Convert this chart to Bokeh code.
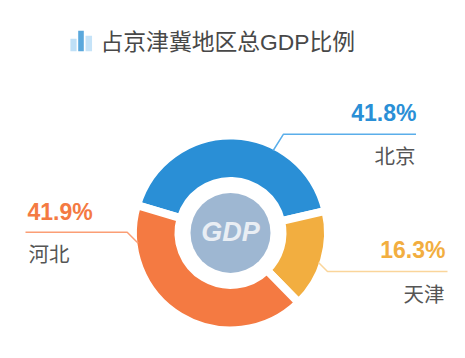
import math
from bokeh.plotting import figure
from bokeh.models import Range1d
from bokeh.core.properties import value
from bokeh.embed import file_html
from bokeh.resources import INLINE

regions = ["北京", "天津", "河北"]
shares = [41.8, 16.3, 41.9]
share_labels = ["41.8%", "16.3%", "41.9%"]
title_text = "占京津冀地区总GDP比例"
center_text = "GDP"
icon_heights = [12.5, 20.5, 15.5]

colors = ["#2A8FD6", "#F2AE40", "#F47A42"]
line_colors = ["#5AAEEA", "#FAD59B", "#FB9E75"]

W, H = 449, 342
def Y(py):
    return 358 - py

p = figure(width=W, height=H, output_backend="svg", toolbar_location=None,
           x_range=Range1d(0, W), y_range=Range1d(358 - H, 358),
           min_border=0, outline_line_color=None)
p.axis.visible = False
p.grid.visible = False
p.background_fill_color = "white"
p.border_fill_color = "white"

cx, cy = 230, Y(232.4)
start = 163.5
ang = start
for v, c in zip(shares, colors):
    end = ang - v * 3.6
    p.annular_wedge(x=[cx], y=[cy], inner_radius=52, outer_radius=97.5,
                    start_angle=math.radians(end), end_angle=math.radians(ang),
                    fill_color=c, line_color="white", line_width=8, line_join="miter")
    ang = end

p.circle(x=[cx], y=[cy], radius=40, fill_color="#9EB7D2", line_color=None)
p.text(x=[cx], y=[cy + 0.5], text=[center_text], text_align="center", text_baseline="middle",
       text_font=value("Liberation Sans"), text_font_size="27px", text_font_style="bold italic",
       text_color="#E9EEF4")

leaders = [([272.7, 283, 415.5], [150, 133.7, 133.7]),
           ([318, 327, 447], [262, 271, 271]),
           ([137.7, 126.7, 25], [242.7, 231.8, 231.8])]
for (xs, ys), c in zip(leaders, line_colors):
    p.line(x=xs, y=[Y(v) for v in ys], line_color=c, line_width=1.5)

pct_pos = [(416, 112.5, "right"), (445, 249, "right"), (27, 211, "left")]
name_pos = [(415, 154.5, "right"), (444, 292.5, "right"), (28, 252.5, "left")]
for t, n, c, (x1, y1, a1), (x2, y2, a2) in zip(share_labels, regions, colors, pct_pos, name_pos):
    p.text(x=[x1], y=[Y(y1)], text=[t], text_align=a1, text_baseline="middle",
           text_font=value("Liberation Sans"), text_font_size="23px", text_font_style="bold",
           text_color=c)
    p.text(x=[x2], y=[Y(y2)], text=[n], text_align=a2, text_baseline="middle",
           text_font=value("Noto Sans CJK SC"), text_font_size="20.5px", text_color="#555555")

icon_x = [73, 80.5, 88.3]
icon_w = [6.2, 5.6, 6.5]
icon_c = ["#BFE0F7", "#5AA8DC", "#C5E3F8"]
base = Y(50.7)
p.vbar(x=icon_x, width=icon_w, bottom=base, top=[base + h for h in icon_heights],
       fill_color=icon_c, line_color=None)

p.text(x=[100], y=[Y(41.5)], text=[title_text], text_align="left", text_baseline="middle",
       text_font=value("Liberation Sans, 'Noto Sans CJK SC'"), text_font_size="22.8px", text_color="#484848")

open("out.html", "w").write(file_html(p, INLINE))
